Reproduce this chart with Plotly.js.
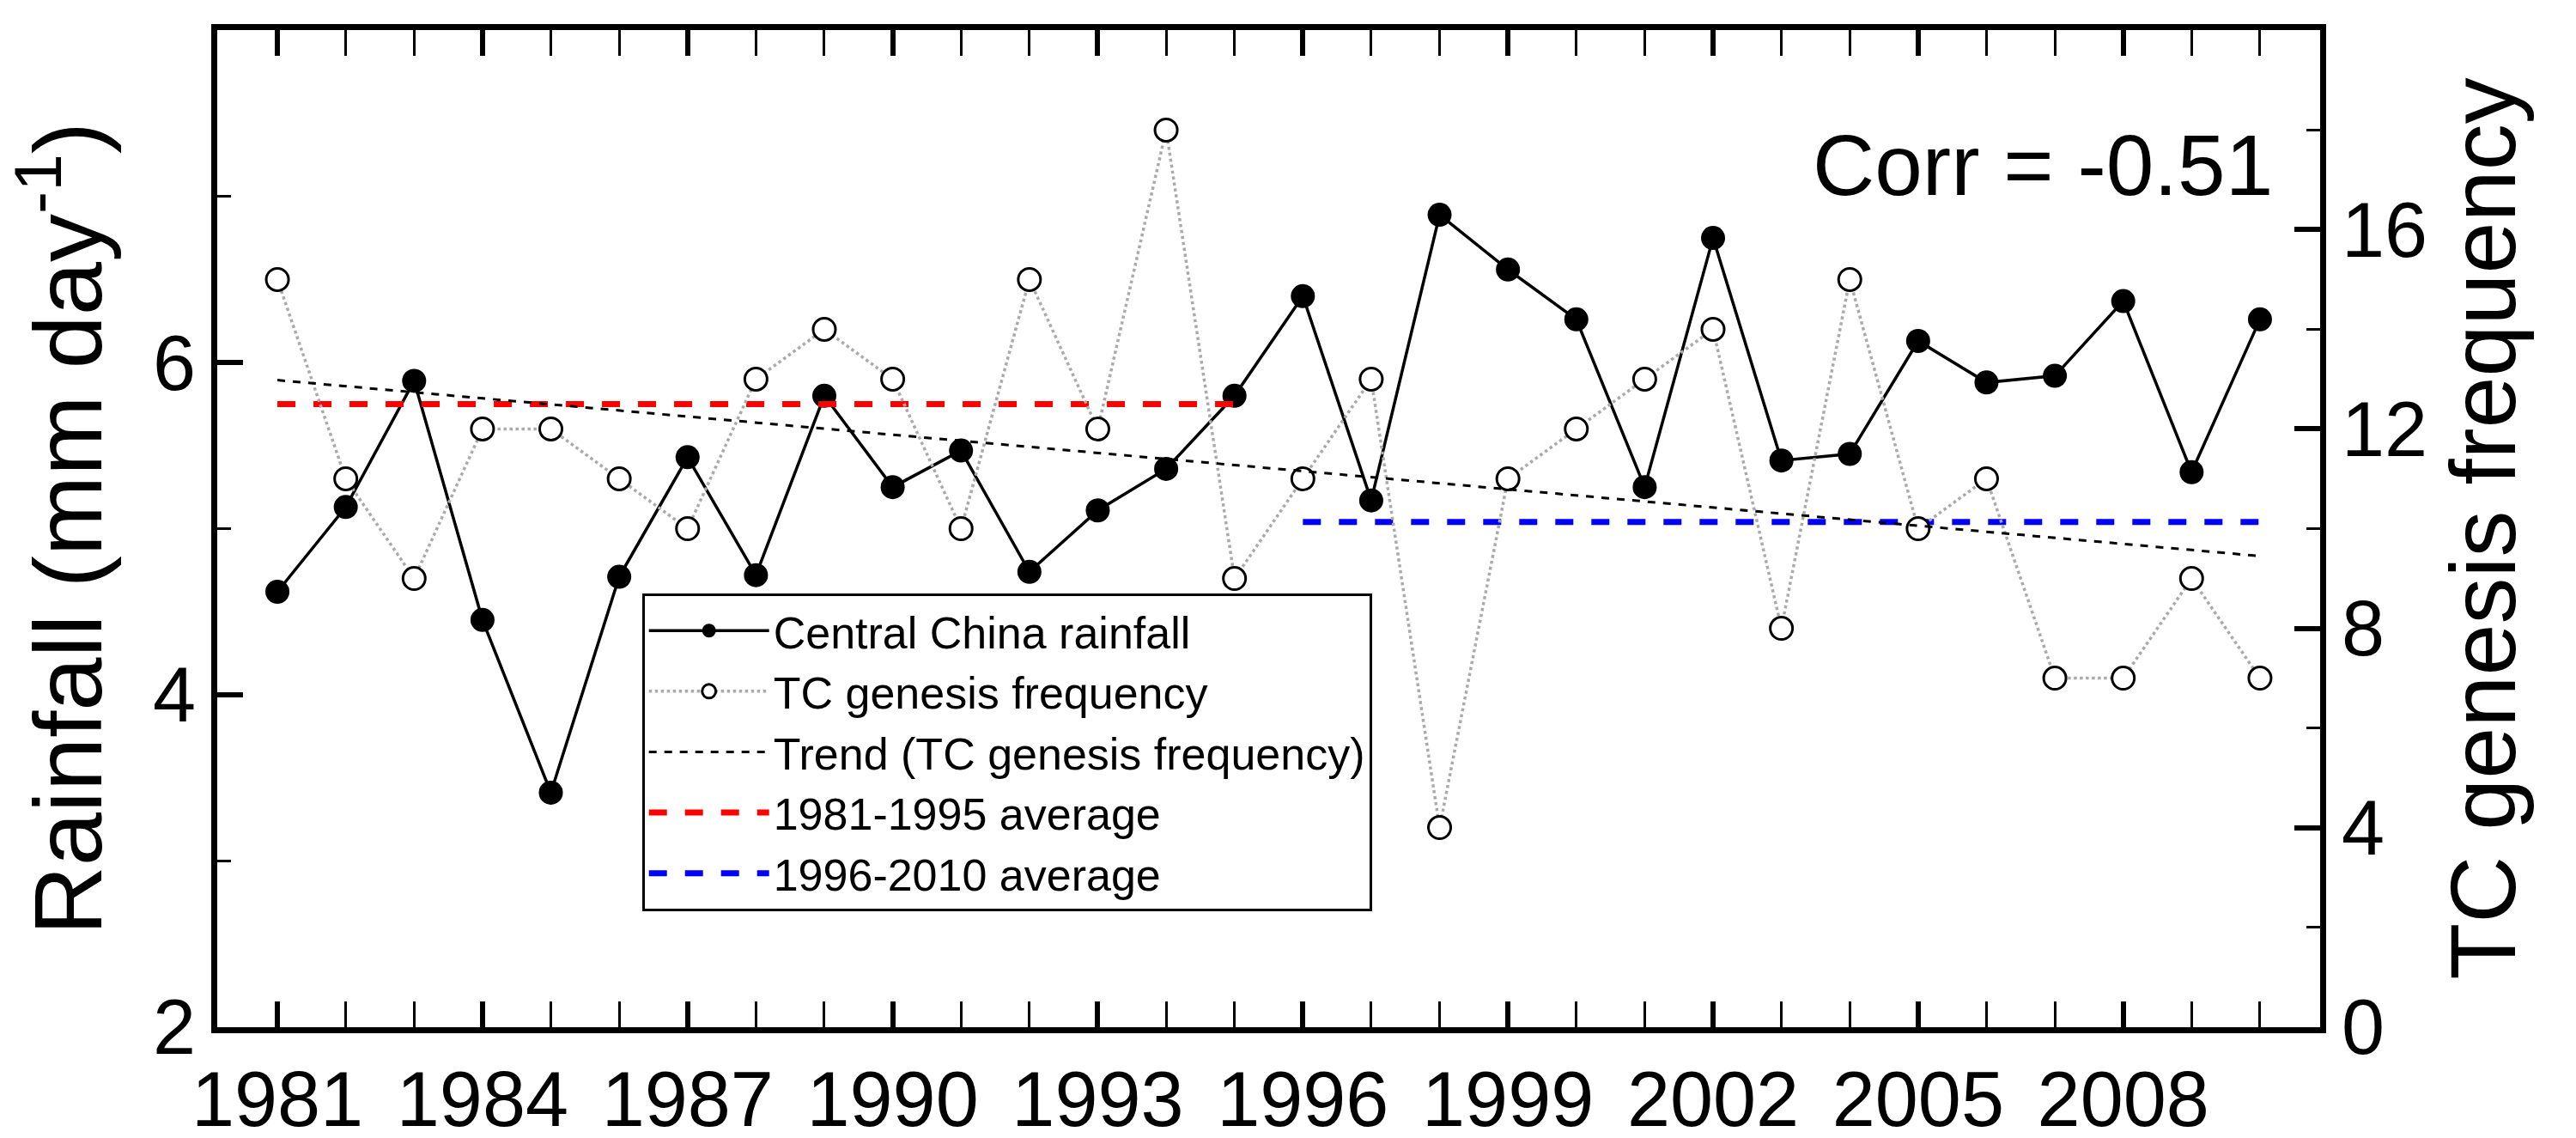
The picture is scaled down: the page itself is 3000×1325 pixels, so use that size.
<!DOCTYPE html>
<html>
<head>
<meta charset="utf-8">
<script src="https://cdn.plot.ly/plotly-3.0.1.min.js"></script>
<style>body{margin:0;background:#fff}#chart{width:3000px;height:1325px}</style>
</head>
<body>
<div id="chart"></div>
<script>
var years = [1981,1982,1983,1984,1985,1986,1987,1988,1989,1990,1991,1992,1993,1994,1995,
             1996,1997,1998,1999,2000,2001,2002,2003,2004,2005,2006,2007,2008,2009,2010];
var rainfall = [4.62,5.13,5.89,4.45,3.41,4.71,5.43,4.72,5.80,5.25,5.47,4.74,5.11,5.36,5.80,
                6.40,5.17,6.89,6.56,6.26,5.25,6.75,5.41,5.45,6.13,5.88,5.92,6.37,5.34,6.26];
var tcFreq = [15,11,9,12,12,11,10,13,14,13,10,15,12,18,9,
              11,13,4,11,12,13,14,8,15,10,11,7,7,9,7];
var trendYears = [1981, 2010];
var trendTC = [12.98, 9.45];
var avg1 = {years: [1981, 1995], value: 5.75};
var avg2 = {years: [1996, 2010], value: 5.04};

var font = "Liberation Sans, Arial, sans-serif";

var traces = [
  {x: years, y: rainfall, name: "Central China rainfall", type: "scatter", mode: "lines+markers",
   line: {color: "black", width: 3.5}, marker: {color: "black", size: 28}},
  {x: years, y: tcFreq, name: "TC genesis frequency", type: "scatter", mode: "lines+markers", yaxis: "y2",
   line: {color: "#aaa", width: 3.5, dash: "dot"},
   marker: {color: "white", size: 26, line: {color: "black", width: 3}}},
  {x: trendYears, y: trendTC, name: "Trend (TC genesis frequency)", type: "scatter", mode: "lines", yaxis: "y2",
   line: {color: "black", width: 3, dash: "dash"}},
  {x: avg1.years, y: [avg1.value, avg1.value], name: "1981-1995 average", type: "scatter", mode: "lines",
   line: {color: "red", width: 7, dash: "dash"}},
  {x: avg2.years, y: [avg2.value, avg2.value], name: "1996-2010 average", type: "scatter", mode: "lines",
   line: {color: "blue", width: 7, dash: "dash"}}
];

var layout = {
  width: 3000, height: 1325,
  margin: {l: 253, r: 298, t: 35, b: 129},
  paper_bgcolor: "white", plot_bgcolor: "white",
  font: {family: font, color: "black"},
  showlegend: true,
  legend: {x: 0.202, y: 0.435, xanchor: "left", yanchor: "top",
           bordercolor: "black", borderwidth: 3, bgcolor: "white",
           font: {size: 52, family: font}, tracegroupgap: 0, itemwidth: 140},
  xaxis: {range: [1980.12, 2010.88], tickmode: "array",
          tickvals: [1981,1984,1987,1990,1993,1996,1999,2002,2005,2008],
          ticks: "inside", ticklen: 30, tickwidth: 6, tickcolor: "black",
          minor: {dtick: 1, tick0: 1981, ticks: "inside", ticklen: 16, tickwidth: 3, tickcolor: "black"},
          showline: true, linewidth: 7, linecolor: "black", mirror: "allticks",
          showgrid: false, zeroline: false, tickfont: {size: 90, family: font}},
  yaxis: {range: [1.998, 8.002], tickvals: [2, 4, 6, 8], ticks: "inside", ticklen: 30, tickwidth: 6, tickcolor: "black",
          minor: {tickvals: [3, 5, 7], ticks: "inside", ticklen: 16, tickwidth: 3, tickcolor: "black"},
          showline: true, linewidth: 7, linecolor: "black",
          showgrid: false, zeroline: false, tickfont: {size: 90, family: font},
          title: {text: "Rainfall (mm day<sup>-1</sup>)", font: {size: 112, family: font}, standoff: 30}},
  yaxis2: {range: [-0.006, 20.006], tickvals: [0, 4, 8, 12, 16, 20], overlaying: "y", side: "right",
           ticks: "inside", ticklen: 30, tickwidth: 6, tickcolor: "black",
           minor: {tickvals: [2, 6, 10, 14, 18], ticks: "inside", ticklen: 16, tickwidth: 3, tickcolor: "black"},
           showline: true, linewidth: 7, linecolor: "black",
           showgrid: false, zeroline: false, tickfont: {size: 90, family: font},
           title: {text: "TC genesis frequency", font: {size: 108, family: font}, standoff: 30}},
  annotations: [{xref: "paper", yref: "paper", x: 0.868, y: 0.865, xanchor: "center", yanchor: "middle",
                 showarrow: false, text: "Corr = -0.51", font: {size: 100, family: font}}]
};

Plotly.newPlot("chart", traces, layout, {displayModeBar: false});
</script>
</body>
</html>
